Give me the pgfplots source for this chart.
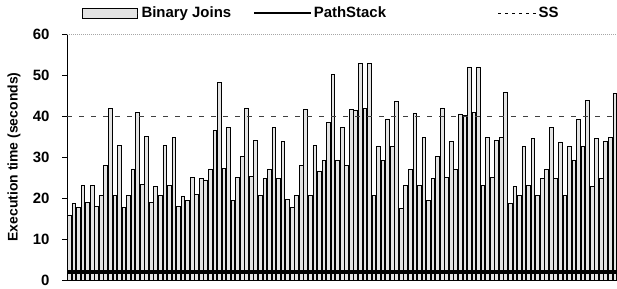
\documentclass[border=0pt]{standalone}
\usepackage{pgfplots}
\pgfplotsset{compat=1.18}
\usepackage{fontspec}
\setmainfont{Liberation Sans}
\begin{document}
\begin{tikzpicture}
\begin{axis}[
  scale only axis,
  width=550bp, height=246bp,
  xmin=0.5, xmax=121.5,
  ymin=0, ymax=60,
  axis y line*=left,
  axis x line*=bottom,
  axis line style={black, line width=1bp},
  xtick=\empty,
  ytick={0,10,20,30,40,50,60},
  tick align=outside,
  major tick length=5bp,
  ytick style={black, line width=0.8bp},
  /pgf/number format/assume math mode=true,
  ticklabel style={font=\fontsize{15}{15}\selectfont\bfseries},
  yticklabel style={xshift=-9bp},
  ylabel={Execution time (seconds)},
  ylabel style={font=\fontsize{14}{14}\selectfont\bfseries, at={(axis description cs:-0.0964,0.5)}, anchor=center},
  clip=false,
  legend columns=3,
  legend style={draw=none, fill=none, at={(axis description cs:0.0273,1.085)}, anchor=west,
    inner sep=0pt, font=\fontsize{15}{15}\selectfont\bfseries,
    nodes={inner sep=2bp},
    /tikz/every even column/.append style={column sep=20bp}},
]
\addplot[ybar, bar width=3.7bp, draw=black, line width=0.6bp, fill=gray!22,
  legend image code/.code={\draw[black, line width=0.6bp, fill=gray!22] (0bp,-5bp) rectangle (55bp,5bp); \path[draw=none] (0bp,0bp) -- (57bp,0bp);}]
coordinates {
(1,15.9) (2,18.7) (3,17.7) (4,23.0) (5,18.9) (6,23.0) (7,17.9) (8,20.6) (9,28.0) (10,41.9)
(11,20.7) (12,32.8) (13,17.7) (14,20.7) (15,27.1) (16,40.9) (17,23.3) (18,35.0) (19,18.9) (20,22.9)
(21,20.7) (22,32.8) (23,23.0) (24,34.7) (25,17.9) (26,20.5) (27,19.5) (28,25.0) (29,20.9) (30,24.8)
(31,24.4) (32,27.1) (33,36.4) (34,48.1) (35,27.2) (36,37.2) (37,19.5) (38,25.0) (39,30.2) (40,42.0)
(41,25.2) (42,34.1) (43,20.6) (44,24.8) (45,27.1) (46,37.2) (47,24.8) (48,33.9) (49,19.7) (50,17.7)
(51,20.6) (52,28.0) (53,41.6) (54,20.6) (55,32.8) (56,26.6) (57,29.1) (58,38.5) (59,50.2) (60,29.3)
(61,37.2) (62,27.9) (63,41.6) (64,41.3) (65,52.8) (66,41.9) (67,52.8) (68,20.6) (69,32.7) (70,29.1)
(71,39.3) (72,32.5) (73,43.7) (74,17.5) (75,23.0) (76,27.0) (77,40.7) (78,23.0) (79,34.8) (80,19.5)
(81,24.8) (82,30.1) (83,42.0) (84,25.0) (85,33.9) (86,27.0) (87,40.5) (88,40.2) (89,52.0) (90,40.9)
(91,52.0) (92,23.0) (93,34.8) (94,25.0) (95,34.0) (96,34.8) (97,45.9) (98,18.7) (99,22.8) (100,20.6)
(101,32.5) (102,23.0) (103,34.6) (104,20.6) (105,24.8) (106,27.0) (107,37.2) (108,24.8) (109,33.7) (110,20.6)
(111,32.5) (112,29.3) (113,39.2) (114,32.7) (115,43.9) (116,22.9) (117,34.6) (118,24.8) (119,33.9) (120,34.8)
(121,45.6)
};
\addlegendentry{Binary Joins}
\addplot[black, line width=4bp, no marks,
  legend image code/.code={\draw[black, line width=1.6bp] (0bp,0bp) -- (57bp,0bp);}]
coordinates {(0.5,2) (121.5,2)};
\addlegendentry{PathStack}
\addplot[black!75, line width=0.8bp, dash pattern=on 5bp off 7bp, no marks,
  legend image code/.code={\path[draw=none] (-90bp,0bp) -- (38bp,0bp); \draw[black, line width=1bp, dash pattern=on 3bp off 4bp] (0bp,0bp) -- (38bp,0bp);}]
coordinates {(0.5,40) (121.5,40)};
\addlegendentry{SS}
\addplot[gray!70, line width=0.8bp, dash pattern=on 1bp off 1bp, no marks, forget plot] coordinates {(0.5,60) (121.5,60)};
\end{axis}
\pgfresetboundingbox
\path[use as bounding box] ([xshift=-67bp,yshift=-9bp]current axis.south west) rectangle ([yshift=34bp]current axis.north east);
\end{tikzpicture}
\end{document}
